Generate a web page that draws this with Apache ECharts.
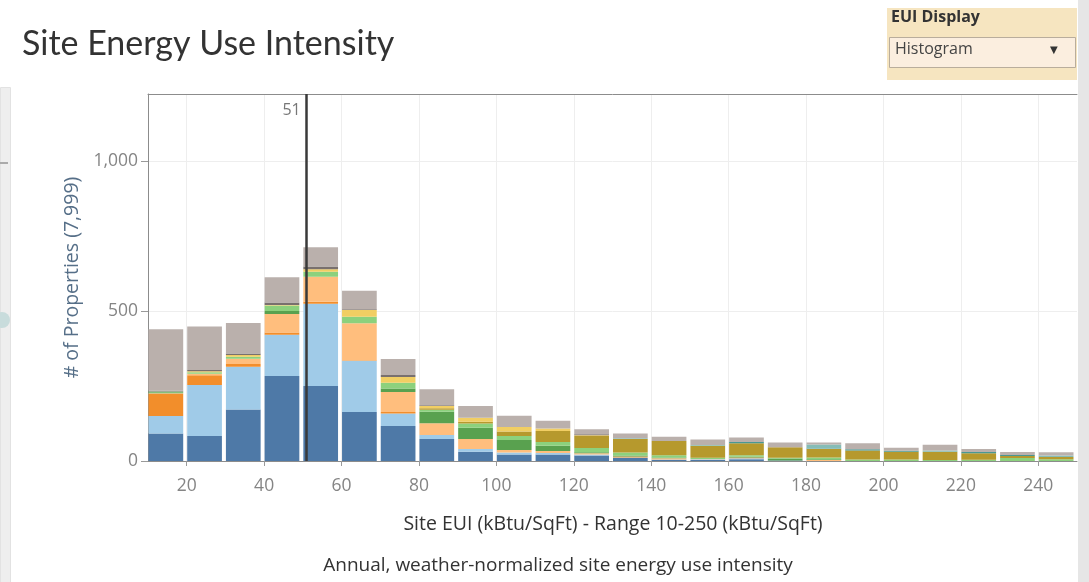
<!DOCTYPE html>
<html>
<head>
<meta charset="utf-8">
<script src="https://cdn.jsdelivr.net/npm/echarts@6/dist/echarts.min.js"></script>
<style>
	html, body { margin: 0; padding: 0; background: #fff; }
	#chart { width: 1089px; height: 582px; }
</style>
</head>
<body>
<div id="chart"></div>
<script>
	// bin starts (kBtu/SqFt), each bin is 10 wide
	var binStarts = [10, 20, 30, 40, 50, 60, 70, 80, 90, 100, 110, 120, 130, 140, 150, 160, 170, 180, 190, 200, 210, 220, 230, 240];
	var binSize = 10;
	var xTicks = [20, 40, 60, 80, 100, 120, 140, 160, 180, 200, 220, 240];
	var medianEui = 51;

	// stacked layers, bottom to top
	var darkBlue = [92, 83, 172, 283, 250, 163, 117, 73, 31, 22, 22, 18, 10, 4, 3, 6, 2, 0, 0, 0, 0, 0, 0, 0];
	var lightBlue = [58, 170, 142, 138, 274, 171, 41, 14, 9, 6, 5, 4, 2, 1, 3, 3, 0, 0, 0, 0, 0, 0, 0, 0];
	var orange = [73, 33, 9, 7, 7, 2, 5, 0, 0, 0, 0, 0, 3, 0, 0, 3, 0, 0, 0, 0, 0, 0, 0, 0];
	var lightOrange = [3, 5, 18, 62, 83, 123, 67, 39, 33, 9, 6, 4, 0, 4, 1, 0, 0, 3, 0, 0, 0, 0, 0, 0];
	var green = [3, 0, 0, 10, 0, 0, 12, 38, 38, 33, 18, 3, 3, 3, 0, 2, 6, 3, 0, 0, 0, 0, 0, 0];
	var lightGreen = [3, 5, 6, 18, 17, 22, 19, 7, 14, 13, 12, 14, 10, 7, 4, 5, 3, 6, 5, 5, 3, 4, 10, 6];
	var olive = [0, 0, 0, 0, 0, 0, 0, 5, 6, 15, 37, 40, 45, 48, 40, 40, 35, 28, 30, 26, 28, 22, 7, 7];
	var yellow = [0, 3, 6, 2, 8, 22, 19, 7, 13, 15, 8, 3, 0, 0, 0, 0, 0, 0, 0, 0, 0, 0, 0, 0];
	var teal = [0, 0, 0, 0, 0, 0, 0, 0, 0, 0, 0, 0, 0, 0, 0, 4, 0, 2, 4, 3, 0, 4, 3, 0];
	var lightTeal = [0, 0, 0, 0, 0, 0, 0, 0, 0, 0, 0, 0, 3, 0, 2, 0, 0, 13, 0, 0, 4, 0, 0, 5];
	var darkGray = [2, 4, 5, 8, 9, 3, 7, 3, 0, 0, 0, 3, 0, 0, 0, 0, 0, 0, 0, 0, 0, 0, 0, 0];
	var gray = [205, 145, 102, 84, 64, 61, 53, 53, 39, 38, 26, 17, 16, 14, 19, 15, 16, 7, 20, 10, 19, 10, 10, 11];

	var layers = [
		{ name: 'darkBlue', values: darkBlue, color: '#4e79a7' },
		{ name: 'lightBlue', values: lightBlue, color: '#a0cbe8' },
		{ name: 'orange', values: orange, color: '#f28e2b' },
		{ name: 'lightOrange', values: lightOrange, color: '#ffbe7d' },
		{ name: 'green', values: green, color: '#59a14f' },
		{ name: 'lightGreen', values: lightGreen, color: '#8cd17d' },
		{ name: 'olive', values: olive, color: '#b6992d' },
		{ name: 'yellow', values: yellow, color: '#f1ce63' },
		{ name: 'teal', values: teal, color: '#499894' },
		{ name: 'lightTeal', values: lightTeal, color: '#86bcb6' },
		{ name: 'darkGray', values: darkGray, color: '#79706e' },
		{ name: 'gray', values: gray, color: '#bab0ac' }
	];

	var chart = echarts.init(document.getElementById('chart'));

	/*堆叠柱子*/
	function renderBar(params, api) {
		var p0 = api.coord([api.value(0), api.value(3)]);
		var p1 = api.coord([api.value(1), api.value(2)]);
		var h = p1[1] - p0[1];
		if (h <= 0) return;
		return {
			type: 'rect',
			shape: { x: p0[0] + 0.5, y: p0[1], width: p1[0] - p0[0] - 4, height: h },
			style: { fill: api.visual('color') }
		};
	}

	var base = binStarts.map(function() { return 0; });
	var series = [];
	for (var i = 0; i < layers.length; i++) {
		var data = [];
		for (var j = 0; j < binStarts.length; j++) {
			var v = layers[i].values[j];
			data.push([binStarts[j], binStarts[j] + binSize, base[j], base[j] + v]);
			base[j] += v;
		}
		series.push({
			name: layers[i].name,
			type: 'custom',
			renderItem: renderBar,
			itemStyle: { color: layers[i].color },
			encode: { x: [0, 1], y: [2, 3] },
			data: data,
			silent: true
		});
	}

	// 中位线
	series.push({
		type: 'line',
		data: [],
		silent: true,
		markLine: {
			symbol: 'none',
			silent: true,
			label: { show: false },
			lineStyle: { color: '#3a3a3a', width: 2.5, type: 'solid' },
			data: [{ xAxis: medianEui }]
		}
	});

	var font = 'Open Sans';

	option = {
		animation: false,
		grid: { left: 148, top: 94, width: 929, height: 367 },
		xAxis: [{
			type: 'value',
			min: 10,
			max: 250,
			axisLine: { show: true, lineStyle: { color: '#8c8c8c' } },
			axisTick: { show: true, length: 5, customValues: xTicks, lineStyle: { color: '#9a9a9a' } },
			axisLabel: { customValues: xTicks, color: '#858585', fontSize: 17.5, fontFamily: font, margin: 16 },
			splitLine: { show: true, lineStyle: { color: '#eeeeee', width: 1 } }
		}, {
			type: 'value',
			position: 'top',
			min: 10,
			max: 250,
			axisLine: { show: true, lineStyle: { color: '#8c8c8c' } },
			axisTick: { show: false },
			axisLabel: { show: false },
			splitLine: { show: false }
		}],
		yAxis: {
			type: 'value',
			min: 0,
			max: 1223,
			interval: 500,
			axisLine: { show: true, lineStyle: { color: '#8c8c8c' } },
			axisTick: { show: true, length: 7, lineStyle: { color: '#9a9a9a' } },
			axisLabel: {
				color: '#858585', fontSize: 17.5, fontFamily: font, margin: 10, showMaxLabel: false,
				formatter: function(v) { return v.toLocaleString('en-US'); }
			},
			splitLine: { show: true, lineStyle: { color: '#eeeeee' } },
			name: '# of Properties (7,999)',
			nameLocation: 'middle',
			nameGap: 64,
			nameTextStyle: { color: '#566f88', fontSize: 19.5, fontFamily: font }
		},
		series: series,
		graphic: [
			{ type: 'rect', left: 0, top: 87, shape: { width: 10, height: 495 }, style: { fill: '#eeeeee', stroke: '#e2e2e2' } },
			{ type: 'rect', left: 0, top: 162, shape: { width: 8, height: 2 }, style: { fill: '#aaaaaa' } },
			{ type: 'circle', left: -6, top: 312, shape: { r: 8 }, style: { fill: '#c8dcdc' } },
			{ type: 'rect', left: 1078, top: 0, shape: { width: 11, height: 582 }, style: { fill: '#e6e6e6' } },
			{ type: 'text', left: 22, top: 27, style: { text: 'Site Energy Use Intensity', fill: '#333', font: '34px Lato' } },
			{ type: 'rect', left: 887, top: 8, shape: { width: 190, height: 72 }, style: { fill: '#f6e5c0' } },
			{ type: 'text', left: 891, top: 9, style: { text: 'EUI Display', fill: '#333', font: 'bold 16px "Open Sans"' } },
			{ type: 'rect', left: 889, top: 37, shape: { width: 186, height: 30 }, style: { fill: '#fbeedf', stroke: '#b9ad9c', lineWidth: 1 } },
			{ type: 'text', left: 895, top: 41, style: { text: 'Histogram', fill: '#444', font: '16px "Open Sans"' } },
			{ type: 'text', left: 1050, top: 45, style: { text: '▼', fill: '#333', font: '10px DejaVu Sans' } },
			{ type: 'text', x: 613, y: 524, style: { text: 'Site EUI (kBtu/SqFt) - Range 10-250 (kBtu/SqFt)', fill: '#333', font: '19.5px "Open Sans"', align: 'center', verticalAlign: 'middle' } },
			{ type: 'text', x: 558, y: 566, style: { text: 'Annual, weather-normalized site energy use intensity', fill: '#333', font: '19px "Open Sans"', align: 'center', verticalAlign: 'middle' } }
		]
	};

	chart.setOption(option);

	// 51 标签
	var pt = chart.convertToPixel({ gridIndex: 0 }, [medianEui, 1223]);
	chart.setOption({
		graphic: option.graphic.concat([{
			type: 'text', x: pt[0] - 6, y: pt[1] + 16,
			style: { text: String(medianEui), fill: '#777', font: '16px "Open Sans"', align: 'right', verticalAlign: 'middle' }
		}])
	});
</script>
</body>
</html>
